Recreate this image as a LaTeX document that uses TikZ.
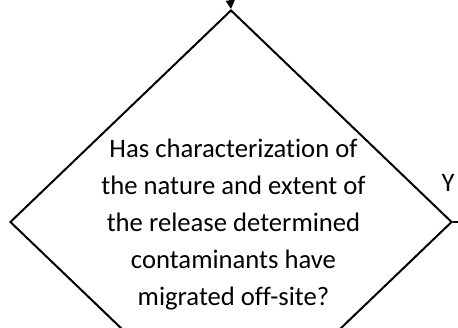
\documentclass[tikz,border=0pt]{standalone}
\usepackage{fontspec}
\setmainfont{Carlito}[Ligatures=NoCommon]
\usetikzlibrary{shapes.geometric,arrows.meta}
\tikzset{
  decision/.style={draw=black, line width=1.5pt, shape=diamond, inner sep=0pt,
    minimum width=331.5pt, minimum height=318pt},
  qtext/.style={align=center, inner sep=0pt, font=\fontsize{20pt}{27.75pt}\selectfont},
  lbl/.style={inner sep=0pt, font=\fontsize{20pt}{27.75pt}\selectfont},
  conn/.style={draw=black, line width=1.5pt},
  arr/.style={conn, -{Triangle[length=6.5pt,width=6.5pt]}}
}
\begin{document}
\begin{tikzpicture}[x=0.75pt,y=-0.75pt]
\useasboundingbox (0,0) rectangle (458,328);
\node[decision] (d) at (231,222) {};
\node[qtext] (q) at (233.5,225) {Has characterization of\\the nature and extent of\\the release determined\\contaminants have\\migrated off-site?};
\node[lbl] (y) at (448,183) {Y};
\coordinate (in) at (230,-2);
\coordinate (out) at (462,222);
\draw[arr] (in) -- (d.north);
\draw[conn] (d.east) -- (out);
\end{tikzpicture}
\end{document}
